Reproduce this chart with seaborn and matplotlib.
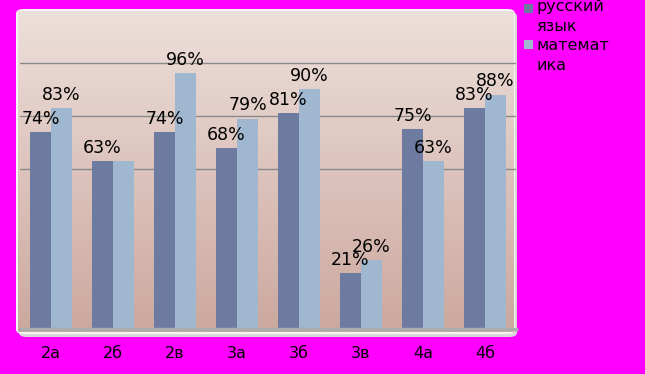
import numpy as np
import pandas as pd
import matplotlib.pyplot as plt
import seaborn as sns
from matplotlib.patches import FancyBboxPatch, Rectangle

# данные с диаграммы
classes = ["2а", "2б", "2в", "3а", "3б", "3в", "4а", "4б"]
russian = [74, 63, 74, 68, 81, 21, 75, 83]
maths = [83, 63, 96, 79, 90, 26, 63, 88]
# подписи значений (в 2б подпись математики скрыта под подписью русского)
russian_labels = ["74%", "63%", "74%", "68%", "81%", "21%", "75%", "83%"]
maths_labels = ["83%", "", "96%", "79%", "90%", "26%", "63%", "88%"]
series = ["русский язык", "математика"]
legend_labels = ["русский\nязык", "математ\nика"]
colors = ["#6E7BA0", "#A0B8CF"]

df = pd.DataFrame({
    "класс": classes * 2,
    "предмет": [series[0]] * len(classes) + [series[1]] * len(classes),
    "процент": russian + maths,
})

sns.set_theme(style="white")
plt.rcParams["font.family"] = ["DejaVu Sans"]

W, H = 645, 374
fig = plt.figure(figsize=(W / 100, H / 100), dpi=100, facecolor="#FF00FF")

# тень и рамка области построения
shadow = FancyBboxPatch((19 / W, 1 - 337 / H), 498 / W, 325 / H,
                        boxstyle="round,pad=0,rounding_size=0.012",
                        transform=fig.transFigure, facecolor="#D8D8D8",
                        edgecolor="none", zorder=0)
fig.patches.append(shadow)
frame = FancyBboxPatch((16 / W, 1 - 334 / H), 499 / W, 325 / H,
                       boxstyle="round,pad=0,rounding_size=0.012",
                       transform=fig.transFigure, facecolor="#F4F4F4",
                       edgecolor="none", zorder=0)
fig.patches.append(frame)

# градиентный фон
bg = fig.add_axes([18 / W, 1 - 332 / H, 496 / W, 321 / H], zorder=1)
top_c = np.array([237, 223, 219]) / 255
bot_c = np.array([204, 168, 158]) / 255
t = np.linspace(0, 1, 256).reshape(-1, 1, 1)
grad = top_c * (1 - t) + bot_c * t
bg.imshow(grad, aspect="auto", extent=[0, 1, 0, 1])
bg.axis("off")

ax = fig.add_axes([20 / W, 1 - 329 / H, 496 / W, 317 / H], zorder=2)
ax.patch.set_alpha(0)

sns.barplot(data=df, x="класс", y="процент", hue="предмет", palette=colors,
            width=0.68, saturation=1, legend=False, linewidth=0, ax=ax)

for cont, labs in zip(ax.containers, [russian_labels, maths_labels]):
    ax.bar_label(cont, labels=labs, padding=3, fontsize=12.5, color="black")

ax.set_xlim(-0.5, len(classes) - 0.5)
ax.set_ylim(0, 119)
ax.set_yticks([60, 80, 100])
ax.set_yticklabels([])
ax.tick_params(axis="y", length=0)
ax.yaxis.grid(True, color="#8A8A8A", linewidth=1)
ax.set_axisbelow(True)
ax.set_xlabel("")
ax.set_ylabel("")
ax.tick_params(axis="x", length=0, pad=12, labelsize=11.5, labelcolor="black")

for s in ["top", "left", "right"]:
    ax.spines[s].set_visible(False)
ax.spines["bottom"].set_color("#ABABAB")
ax.spines["bottom"].set_linewidth(2.5)

# легенда справа вверху
marker_tops = [4, 40]
text_tops = [-1, 38]
for col, lab, mt, tt in zip(colors, legend_labels, marker_tops, text_tops):
    fig.patches.append(Rectangle((524 / W, 1 - (mt + 9) / H), 9 / W, 9 / H,
                                 transform=fig.transFigure, facecolor=col,
                                 edgecolor="none"))
    fig.text(536 / W, 1 - tt / H, lab, fontsize=11.5, va="top", ha="left",
             linespacing=1.4, color="black")

fig.savefig("out.png", dpi=100, facecolor=fig.get_facecolor())
